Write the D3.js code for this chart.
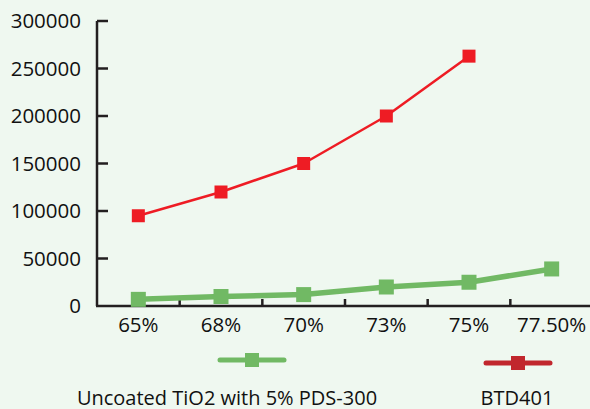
<!DOCTYPE html>
<html><head><meta charset="utf-8">
<script src="https://cdn.jsdelivr.net/npm/d3@7"></script>
<style>
html,body{margin:0;padding:0;background:#eff8f0;}
svg{display:block;font-family:"Open Sans",sans-serif;}
</style></head>
<body><svg id="c" width="590" height="409"></svg>
<script>
const categories = ["65%","68%","70%","73%","75%","77.50%"];
const uncoated = [7000, 10000, 12000, 20000, 25000, 39000];
const btd401 = [95000, 120000, 150000, 200000, 263000, null];
const yTicks = [0, 50000, 100000, 150000, 200000, 250000, 300000];
const seriesNames = ["Uncoated TiO2 with 5% PDS-300", "BTD401"];

const svg = d3.select("#c");
const x = d3.scaleBand().domain(categories).range([97, 593]).padding(0);
const y = d3.scaleLinear().domain([0, 300000]).range([306, 21]);
const axisColor = "#231f20";

// y axis
const ya = svg.append("g");
ya.append("line").attr("x1",97).attr("x2",97).attr("y1",y(300000)).attr("y2",y(0))
  .attr("stroke",axisColor).attr("stroke-width",2.5);
ya.selectAll("line.t").data(yTicks.filter(d=>d>0)).join("line").attr("class","t")
  .attr("x1",97).attr("x2",108).attr("y1",d=>y(d)).attr("y2",d=>y(d))
  .attr("stroke",axisColor).attr("stroke-width",2.5);
ya.selectAll("text").data(yTicks).join("text")
  .attr("x",81).attr("y",d=>y(d)).attr("dy","0.36em").attr("text-anchor","end")
  .attr("font-size",20.5).attr("fill","#111").text(d=>d);

// x axis
const xa = svg.append("g");
xa.append("line").attr("x1",96).attr("x2",590).attr("y1",y(0)).attr("y2",y(0))
  .attr("stroke",axisColor).attr("stroke-width",2.5);
xa.selectAll("line.t").data(categories.slice(1)).join("line").attr("class","t")
  .attr("x1",d=>x(d)).attr("x2",d=>x(d)).attr("y1",y(0)).attr("y2",y(0)-7)
  .attr("stroke",axisColor).attr("stroke-width",2.5);
xa.selectAll("text").data(categories).join("text")
  .attr("x",d=>x(d)+x.bandwidth()/2).attr("y",332).attr("text-anchor","middle")
  .attr("font-size",20.5).attr("fill","#111").text(d=>d);

const cx = d=>x(d)+x.bandwidth()/2;

function drawSeries(vals, color, lw, ms){
  const pts = categories.map((c,i)=>({c, v:vals[i]})).filter(p=>p.v!=null);
  svg.append("path").datum(pts)
    .attr("d", d3.line().x(p=>cx(p.c)).y(p=>y(p.v)))
    .attr("fill","none").attr("stroke",color).attr("stroke-width",lw).attr("stroke-linejoin","round");
  svg.selectAll(null).data(pts).join("rect")
    .attr("x",p=>cx(p.c)-ms/2).attr("y",p=>y(p.v)-ms/2).attr("width",ms).attr("height",ms)
    .attr("fill",color);
}
drawSeries(uncoated, "#71b964", 5.5, 15);
drawSeries(btd401, "#ee1c24", 2.5, 13);

// legend
const legend = [
  {name: seriesNames[0], color:"#71b964", cx:252, ly:360, tx:227, lw:5, ms:14},
  {name: seriesNames[1], color:"#c1272d", cx:518, ly:363, tx:517, lw:5, ms:14}
];
const lg = svg.append("g");
legend.forEach(l=>{
  lg.append("line").attr("x1",l.cx-32).attr("x2",l.cx+32).attr("y1",l.ly).attr("y2",l.ly)
    .attr("stroke",l.color).attr("stroke-width",l.lw).attr("stroke-linecap","round");
  lg.append("rect").attr("x",l.cx-l.ms/2).attr("y",l.ly-l.ms/2).attr("width",l.ms).attr("height",l.ms).attr("fill",l.color);
  lg.append("text").attr("x",l.tx).attr("y",405).attr("text-anchor","middle")
    .attr("font-size",20).attr("fill","#111").text(l.name);
});
</script></body></html>
